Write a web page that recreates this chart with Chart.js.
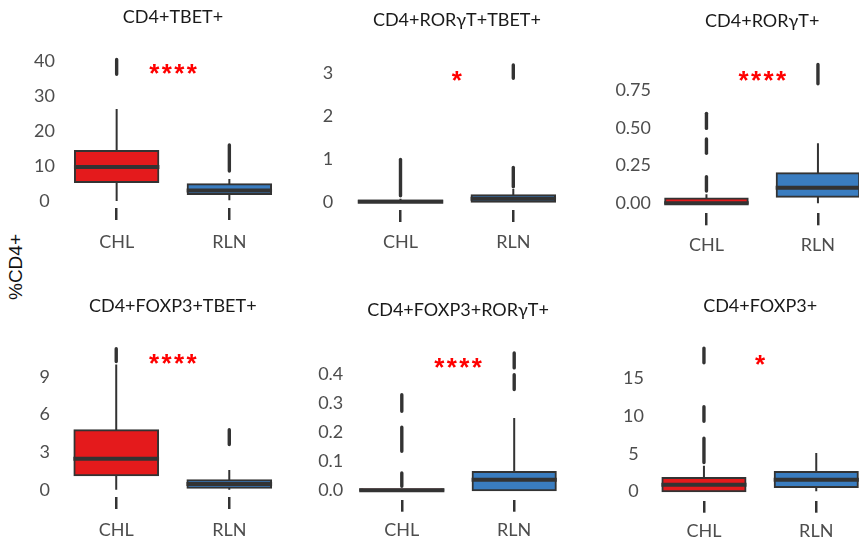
<!DOCTYPE html>
<html>
<head>
<meta charset="utf-8">
<title>%CD4+ subsets, CHL vs RLN</title>
<script src="https://cdn.jsdelivr.net/npm/chart.js@4.4.1/dist/chart.umd.min.js"></script>
<style>
  html, body { margin: 0; padding: 0; background: #ffffff; }
  body { position: relative; width: 859px; height: 546px; overflow: hidden; }
  canvas { position: absolute; }
  #yTitle {
    position: absolute; left: 16px; top: 267px;
    transform: translate(-50%, -50%) rotate(-90deg);
    font: 19px "Liberation Sans", Arial, sans-serif; color: #111111; white-space: nowrap;
  }
</style>
</head>
<body>
<div id="yTitle">%CD4+</div>
<script>
// ---- data -------------------------------------------------------------
const groups = ['CHL', 'RLN'];
const groupColors = ['#E41A1C', '#3A7DC0'];

const panelTitles = ['CD4+TBET+', 'CD4+RORγT+TBET+', 'CD4+RORγT+',
                     'CD4+FOXP3+TBET+', 'CD4+FOXP3+RORγT+', 'CD4+FOXP3+'];
const sigLabels = ['****', '*', '****', '****', '****', '*'];
const sigValues = [37.7, 2.94, 0.843, 10.44, 0.437, 17.5];

// per panel: [CHL, RLN]
const q1Values     = [[5.4, 2.0], [0, 0], [0, 0.044], [1.15, 0.15], [0, 0], [0, 0.57]];
const medianValues = [[9.7, 3.0], [0, 0.07], [0, 0.103], [2.48, 0.45], [0, 0.036], [0.88, 1.55]];
const q3Values     = [[14.3, 4.8], [0.03, 0.15], [0.032, 0.199], [4.74, 0.75], [0.004, 0.063], [1.77, 2.57]];
const whiskerLow   = [[0, 0.2], [0, 0], [0, 0], [0, 0], [0, 0], [0, 0]];
const whiskerHigh  = [[26.3, 6.3], [0.07, 0.3], [0.06, 0.397], [10.0, 1.57], [0.004, 0.248], [3.4, 5.1]];
// outlying observations, as [low, high] runs of overlapping points
const outlierRuns = [
  [[[35.7, 40.9]], [[8.1, 16.5]]],
  [[[0.1, 1.03]], [[0.31, 0.84], [2.85, 3.24]]],
  [[[0.07, 0.187], [0.32, 0.437], [0.485, 0.607]], [[0.78, 0.93]]],
  [[[10.1, 11.4]], [[3.47, 4.93]]],
  [[[0.008, 0.065], [0.128, 0.222], [0.265, 0.334]], [[0.34, 0.402], [0.414, 0.477]]],
  [[[3.6, 7.3], [9.1, 11.5], [16.9, 19.3]], []]
];

const yTickValues = [[0, 10, 20, 30, 40], [0, 1, 2, 3], [0, 0.25, 0.5, 0.75],
                     [0, 3, 6, 9], [0, 0.1, 0.2, 0.3, 0.4], [0, 5, 10, 15]];
const yTickLabels = [['0', '10', '20', '30', '40'], ['0', '1', '2', '3'], ['0.00', '0.25', '0.50', '0.75'],
                     ['0', '3', '6', '9'], ['0.0', '0.1', '0.2', '0.3', '0.4'], ['0', '5', '10', '15']];
const yAxisMin = [-2.0, -0.194, -0.066, -0.583, -0.0322, -1.25];
const yAxisMax = [42.86, 3.529, 1.0086, 11.957, 0.5156, 20.15];

// ---- panel geometry (page pixels) --------------------------------------
const frames = [
  { x: 0,   y: 0,   w: 300, h: 262, left: 60.3,  right: 285.7, top: 51,  bottom: 208,   titleY: 17.5,  labelY: 241.7, tickRight: 55 },
  { x: 290, y: 0,   w: 300, h: 262, left: 344.1, right: 569.7, top: 51,  bottom: 210,   titleY: 20.5,  labelY: 241.7, tickRight: 333.3 },
  { x: 580, y: 0,   w: 300, h: 262, left: 650.7, right: 873.7, top: 51,  bottom: 213.3, titleY: 21.5,  labelY: 245,   tickRight: 651 },
  { x: 0,   y: 289, w: 300, h: 257, left: 59.7,  right: 285.8, top: 340, bottom: 497,   titleY: 306.3, labelY: 529.7, tickRight: 50 },
  { x: 290, y: 289, w: 300, h: 257, left: 345.6, right: 570.4, top: 340, bottom: 499.7, titleY: 310,   labelY: 529.7, tickRight: 343.3 },
  { x: 580, y: 289, w: 300, h: 257, left: 647.8, right: 872.4, top: 340, bottom: 500.7, titleY: 306.3, labelY: 531.3, tickRight: 644 }
];

const INK = '#333333';
const TITLE_SIZE = 18, LINE_H = 1.2;
const X_FONT = 18, Y_FONT = 18;
const TICK_LEN = 12;

// median bar across each box
const medianPlugin = {
  id: 'medianLine',
  afterDatasetsDraw(chart) {
    const i = chart.config.options.panelIndex;
    const meta = chart.getDatasetMeta(0);
    const ys = chart.scales.y;
    const ctx = chart.ctx;
    ctx.save();
    ctx.strokeStyle = INK;
    ctx.lineWidth = 4;
    meta.data.forEach((bar, j) => {
      const y = ys.getPixelForValue(medianValues[i][j]);
      const half = bar.width / 2 + 1;
      ctx.beginPath();
      ctx.moveTo(bar.x - half, y);
      ctx.lineTo(bar.x + half, y);
      ctx.stroke();
    });
    ctx.restore();
  }
};

// significance stars between the two groups
const sigPlugin = {
  id: 'sigStars',
  afterDraw(chart) {
    const i = chart.config.options.panelIndex;
    const xs = chart.scales.x, ys = chart.scales.y;
    const ctx = chart.ctx;
    const cx = (xs.getPixelForValue(0) + xs.getPixelForValue(1)) / 2;
    const cy = ys.getPixelForValue(sigValues[i]);
    ctx.save();
    ctx.font = 'bold 26px "Liberation Sans", Arial, sans-serif';
    ctx.fillStyle = '#FF0000';
    ctx.textAlign = 'center';
    ctx.textBaseline = 'alphabetic';
    const m = ctx.measureText('*');
    const yb = cy + (m.actualBoundingBoxAscent - m.actualBoundingBoxDescent) / 2;
    const n = sigLabels[i].length;
    const pitch = 12.5;
    for (let k = 0; k < n; k++) {
      ctx.fillText(sigLabels[i][k], cx + (k - (n - 1) / 2) * pitch, yb);
    }
    ctx.restore();
  }
};

function buildPanel(i) {
  const f = frames[i];
  const canvas = document.createElement('canvas');
  canvas.width = f.w;
  canvas.height = f.h;
  canvas.style.left = f.x + 'px';
  canvas.style.top = f.y + 'px';
  document.body.appendChild(canvas);

  const datasets = [];
  datasets.push({
    label: 'IQR',
    data: groups.map((g, j) => [q1Values[i][j], q3Values[i][j]]),
    backgroundColor: groupColors,
    borderColor: INK,
    borderWidth: 2,
    borderSkipped: false,
    inflateAmount: 1,
    barPercentage: 0.74,
    categoryPercentage: 1,
    grouped: false,
    order: 0
  });
  datasets.push({
    label: 'whiskers',
    data: groups.map((g, j) => whiskerHigh[i][j] > whiskerLow[i][j] ? [whiskerLow[i][j], whiskerHigh[i][j]] : null),
    backgroundColor: INK,
    borderWidth: 0,
    barThickness: 2,
    inflateAmount: 0,
    grouped: false,
    order: 1
  });
  const nRuns = Math.max(...outlierRuns[i].map(r => r.length));
  for (let k = 0; k < nRuns; k++) {
    datasets.push({
      label: 'outliers ' + (k + 1),
      data: groups.map((g, j) => outlierRuns[i][j][k] || null),
      backgroundColor: INK,
      borderWidth: 0,
      barThickness: 3.4,
      borderRadius: 1.7,
      borderSkipped: false,
      inflateAmount: 0,
      grouped: false,
      order: 2
    });
  }

  const titleH = TITLE_SIZE * LINE_H;
  const titlePadTop = f.titleY - f.y - titleH / 2;
  const titlePadBottom = (f.top - f.y) - titlePadTop - titleH;
  const xLabelPad = f.labelY - f.bottom - TICK_LEN - X_FONT * LINE_H / 2;

  new Chart(canvas, {
    type: 'bar',
    data: { labels: groups, datasets },
    options: {
      panelIndex: i,
      responsive: false,
      animation: false,
      events: [],
      layout: { padding: { left: 0, top: 0, bottom: 0, right: f.x + f.w - f.right } },
      plugins: {
        legend: { display: false },
        tooltip: { enabled: false },
        title: {
          display: true,
          text: panelTitles[i],
          fullSize: false,
          color: '#1A1A1A',
          font: { family: 'Lato', size: TITLE_SIZE, weight: 'normal', lineHeight: LINE_H },
          padding: { top: titlePadTop, bottom: titlePadBottom }
        }
      },
      scales: {
        x: {
          type: 'category',
          offset: true,
          grid: { display: true, drawOnChartArea: false, drawTicks: true, tickLength: TICK_LEN,
                  color: INK, lineWidth: 2.5, offset: false },
          border: { display: false },
          ticks: { color: '#4D4D4D', font: { family: 'Lato', size: X_FONT, lineHeight: LINE_H },
                   padding: xLabelPad, maxRotation: 0 },
          afterFit: s => { s.height = f.y + f.h - f.bottom; }
        },
        y: {
          type: 'linear',
          min: yAxisMin[i],
          max: yAxisMax[i],
          grid: { display: false, drawTicks: false },
          border: { display: false },
          ticks: {
            color: '#4D4D4D',
            font: { family: 'Lato', size: Y_FONT, lineHeight: LINE_H },
            crossAlign: 'center',
            padding: f.left - f.tickRight,
            callback: (v, idx) => yTickLabels[i][idx]
          },
          afterBuildTicks: s => { s.ticks = yTickValues[i].map(v => ({ value: v })); },
          afterFit: s => { s.width = f.left - f.x; }
        }
      }
    },
    plugins: [medianPlugin, sigPlugin]
  });
}

for (let i = 0; i < panelTitles.length; i++) buildPanel(i);
</script>
</body>
</html>
